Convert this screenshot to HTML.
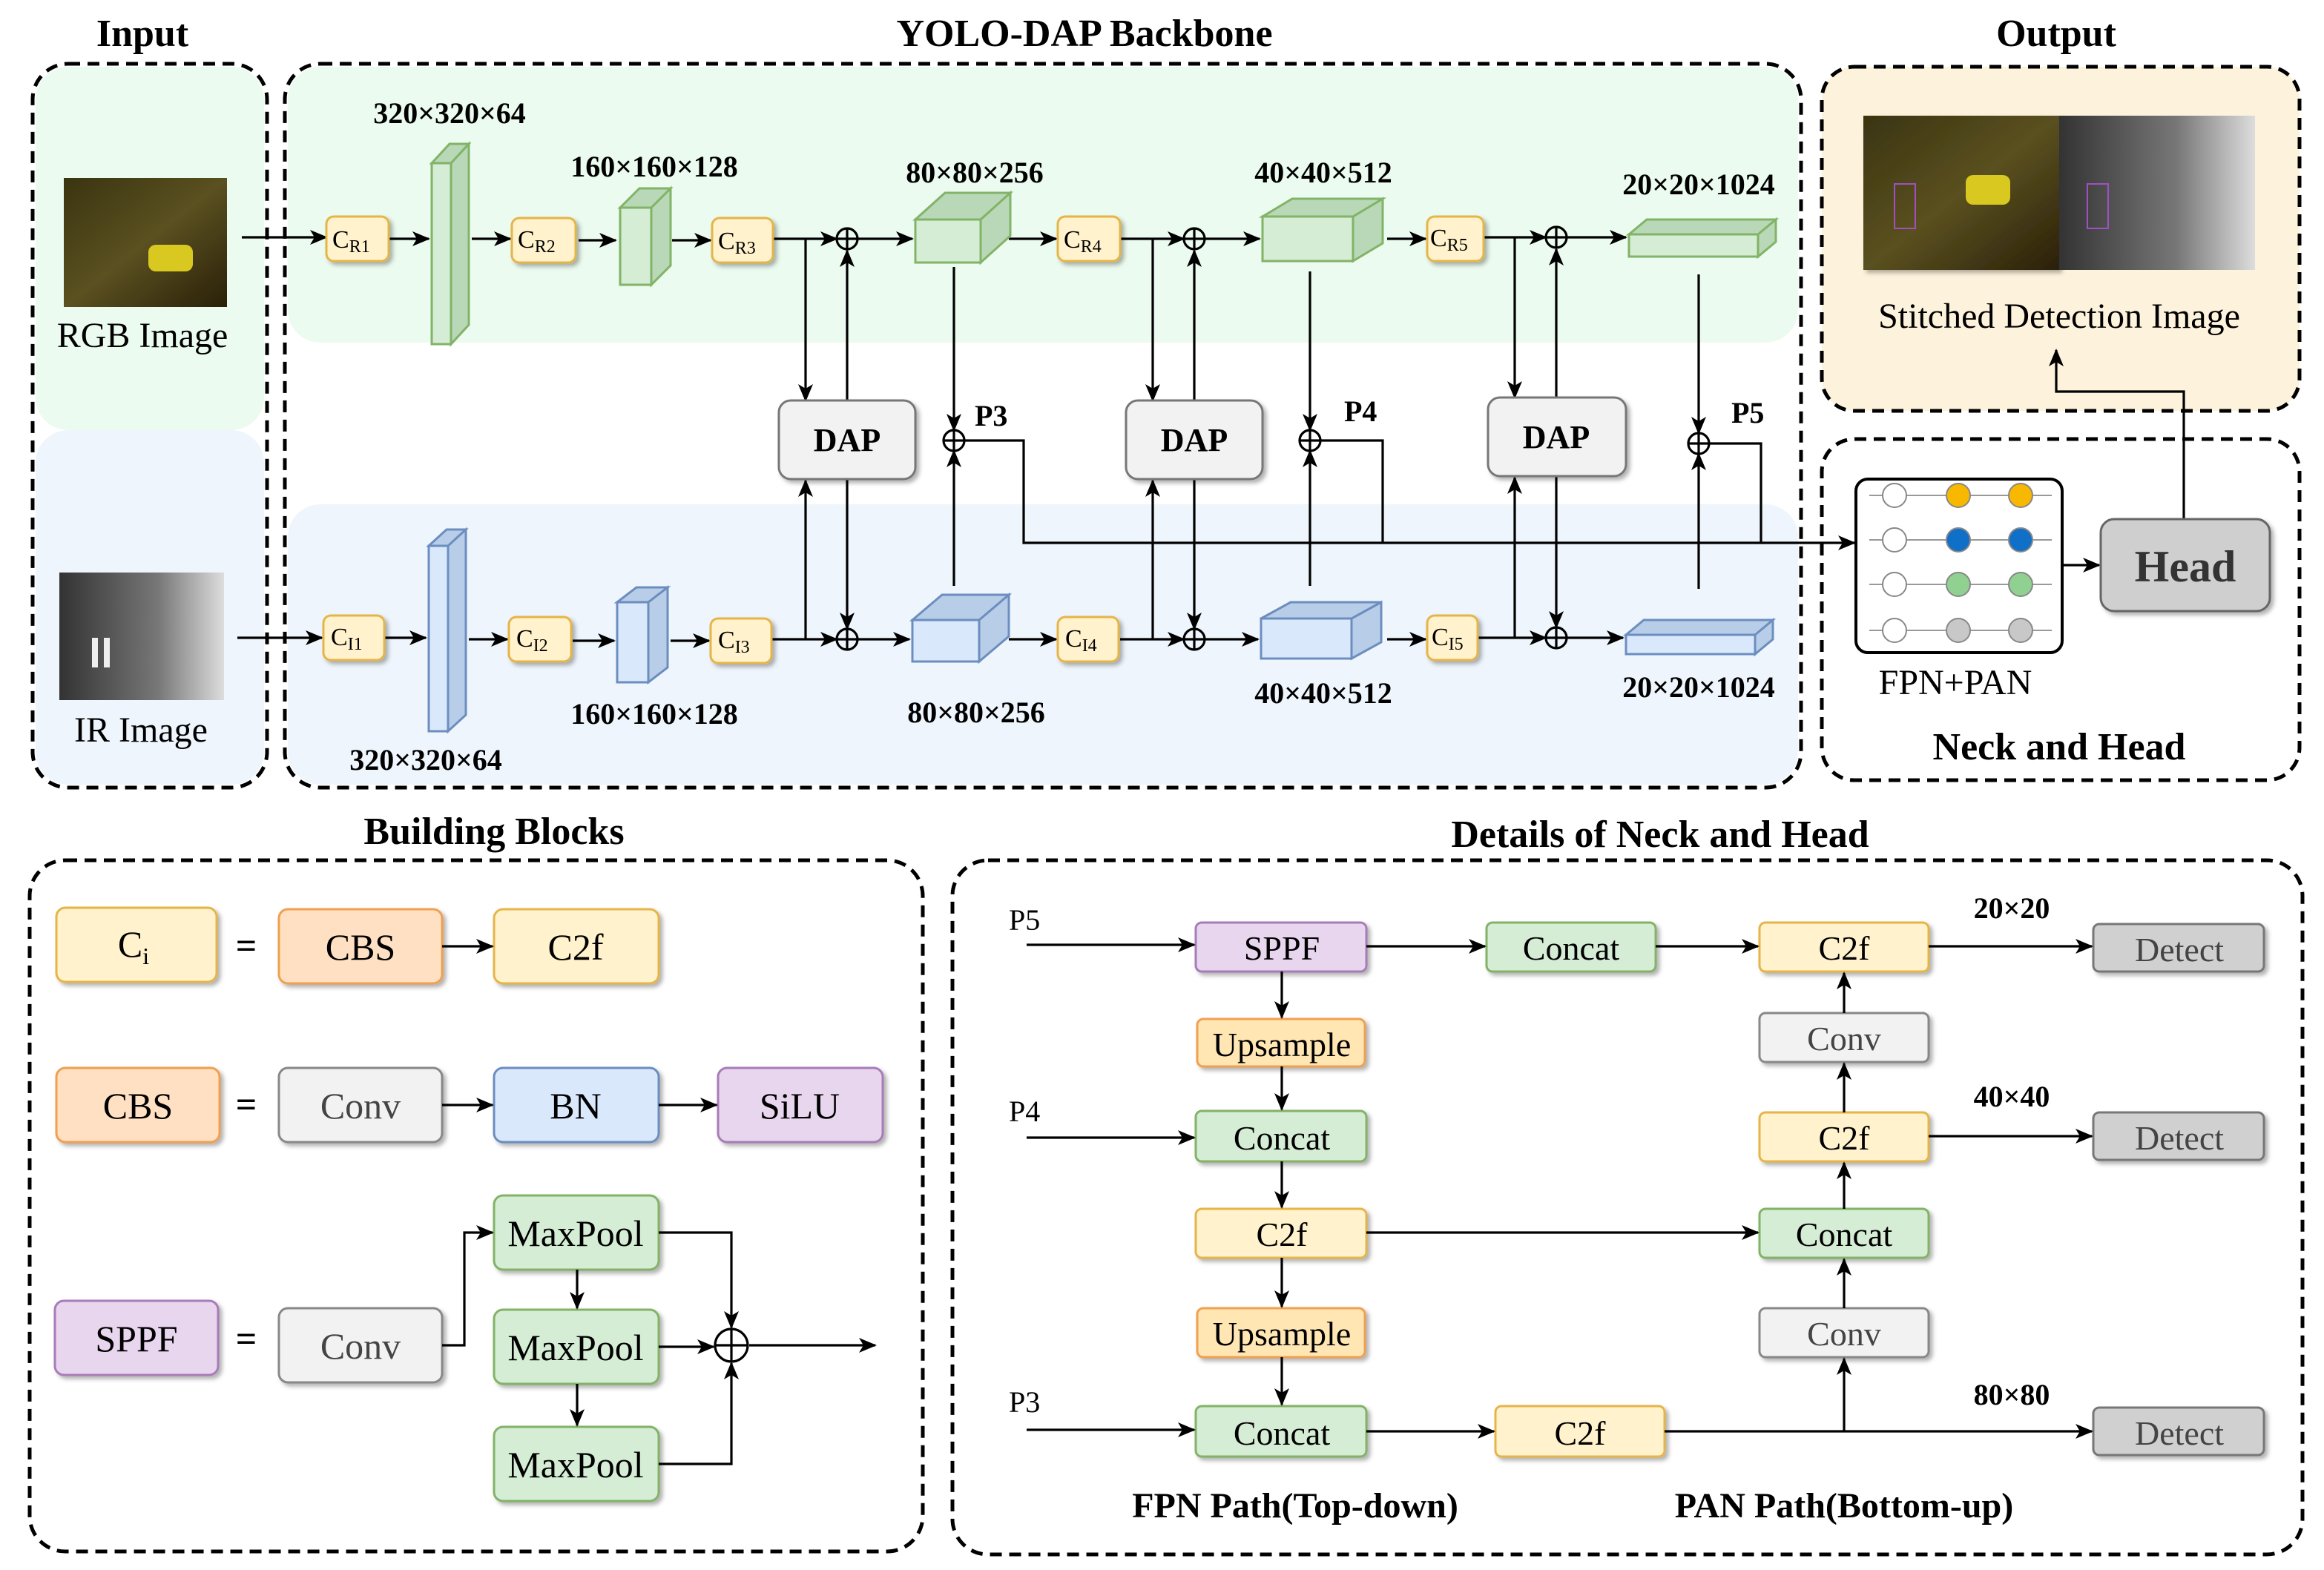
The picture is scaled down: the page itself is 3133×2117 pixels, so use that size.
<!DOCTYPE html>
<html><head><meta charset="utf-8"><style>html,body{margin:0;padding:0;background:#fff}svg{display:block}</style></head>
<body>
<svg width="3133" height="2117" viewBox="0 0 1566.5 1058.5" xmlns="http://www.w3.org/2000/svg" font-family="Liberation Serif, serif">
<defs>
<marker id="a" markerWidth="12" markerHeight="10" refX="11" refY="5" orient="auto" markerUnits="userSpaceOnUse"><path d="M0,0 L12,5 L0,10 L3,5 z" fill="#000"/></marker>
<filter id="sh" x="-10%" y="-10%" width="130%" height="140%"><feDropShadow dx="2" dy="2" stdDeviation="1.5" flood-opacity="0.3"/></filter>
<linearGradient id="rgb" x1="0" y1="0" x2="1" y2="1"><stop offset="0" stop-color="#3a3410"/><stop offset="0.5" stop-color="#5a5020"/><stop offset="1" stop-color="#2a2008"/></linearGradient>
<linearGradient id="ir" x1="0" y1="0" x2="1" y2="0"><stop offset="0" stop-color="#333"/><stop offset="0.6" stop-color="#777"/><stop offset="1" stop-color="#ddd"/></linearGradient>
</defs>
<g font-weight="bold" font-size="26" text-anchor="middle">
<text x="96" y="31">Input</text><text x="731" y="31">YOLO-DAP Backbone</text><text x="1386" y="31">Output</text>
<text x="333" y="569">Building Blocks</text><text x="1119" y="571">Details of Neck and Head</text>
</g>
<!-- backgrounds -->
<rect x="24" y="45" width="154" height="245" rx="22" fill="#ebfbef"/>
<rect x="24" y="290" width="154" height="239" rx="22" fill="#eef5fc"/>
<rect x="194" y="45" width="1018" height="186" rx="22" fill="#ebfbef"/>
<rect x="194" y="340" width="1018" height="189" rx="22" fill="#eef5fc"/>
<rect x="1228" y="45" width="322" height="232" rx="22" fill="#fdf2dc"/>
<g fill="none" stroke="#000" stroke-width="2.5" stroke-dasharray="8 5">
<rect x="22" y="43" width="158" height="488" rx="24"/>
<rect x="192" y="43" width="1022" height="488" rx="24"/>
<rect x="1228" y="45" width="322" height="232" rx="22"/>
<rect x="1228" y="296" width="322" height="230" rx="22"/>
<rect x="20" y="580" width="602" height="466" rx="24"/>
<rect x="642" y="580" width="910" height="468" rx="24"/>
</g>
<!-- input images -->
<rect x="43" y="120" width="110" height="87" fill="url(#rgb)"/>
<rect x="100" y="165" width="30" height="18" rx="5" fill="#d8c820"/>
<rect x="40" y="386" width="111" height="86" fill="url(#ir)"/>
<rect x="62" y="430" width="4" height="20" fill="#eee"/><rect x="70" y="430" width="4" height="20" fill="#eee"/>
<g font-size="24" text-anchor="middle"><text x="96" y="234">RGB Image</text><text x="95" y="500">IR Image</text></g>
<!-- output image -->
<rect x="1256" y="78" width="132" height="104" fill="url(#rgb)" filter="url(#sh)"/>
<rect x="1388" y="78" width="132" height="104" fill="url(#ir)"/>
<rect x="1325" y="118" width="30" height="20" rx="5" fill="#d8c820"/>
<rect x="1277" y="124" width="14" height="30" fill="none" stroke="#a050c0"/><rect x="1407" y="124" width="14" height="30" fill="none" stroke="#a050c0"/>
<text x="1388" y="221" font-size="24" text-anchor="middle">Stitched Detection Image</text>

<g stroke="#000" stroke-width="1.6" fill="none" marker-end="url(#a)">
<!-- top row -->
<path d="M163,160 H220"/><path d="M262,161 H289"/><path d="M318,161 H344"/><path d="M390,162 H415"/><path d="M453,162 H479"/>
<path d="M521,161 H564"/><path d="M578,161 H615"/><path d="M680,161 H712"/><path d="M755,161 H798"/><path d="M812,161 H849"/><path d="M935,161 H961"/><path d="M1000,160 H1042"/><path d="M1056,160 H1096"/>
<!-- bottom row -->
<path d="M160,430 H217"/><path d="M259,430 H287"/><path d="M316,431 H342"/><path d="M386,432 H414"/><path d="M452,432 H478"/>
<path d="M520,431 H564"/><path d="M578,431 H613"/><path d="M680,431 H712"/><path d="M755,431 H798"/><path d="M812,431 H848"/><path d="M935,431 H961"/><path d="M996,430 H1042"/><path d="M1056,430 H1094"/>
<!-- DAP connections -->
<path d="M543,161 V270"/><path d="M571,270 V169"/><path d="M543,431 V324"/><path d="M571,323 V424"/>
<path d="M777,161 V270"/><path d="M805,270 V169"/><path d="M777,431 V324"/><path d="M805,323 V424"/>
<path d="M1021,160 V268"/><path d="M1049,268 V168"/><path d="M1021,430 V322"/><path d="M1049,321 V423"/>
<path d="M643,180 V290"/><path d="M643,395 V304"/>
<path d="M883,183 V290"/><path d="M883,395 V304"/>
<path d="M1145,185 V292"/><path d="M1145,397 V306"/>
<path d="M650,297 H690 V366 H1250"/>
<path d="M1390,381 H1415"/>
<path d="M1472,350 V264 H1386 V236"/>
</g>
<g stroke="#000" stroke-width="1.6" fill="none">
<path d="M890,297 H932 V366"/><path d="M1152,299 H1187 V366"/>
<circle cx="571" cy="161" r="7"/><circle cx="805" cy="161" r="7"/><circle cx="1049" cy="160" r="7"/>
<circle cx="571" cy="431" r="7"/><circle cx="805" cy="431" r="7"/><circle cx="1049" cy="430" r="7"/>
<circle cx="643" cy="297" r="7"/><circle cx="883" cy="297" r="7"/><circle cx="1145" cy="299" r="7"/>
<path d="M564,161H578M571,154V168M798,161H812M805,154V168M1042,160H1056M1049,153V167M564,431H578M571,424V438M798,431H812M805,424V438M1042,430H1056M1049,423V437M636,297H650M643,290V304M876,297H890M883,290V304M1138,299H1152M1145,292V306"/>
</g>
<!-- C boxes -->
<g fill="#fff2cc" stroke="#e6b54a" stroke-width="1.5" filter="url(#sh)">
<rect x="220" y="146" width="42" height="30" rx="5"/><rect x="345" y="147" width="43" height="30" rx="5"/><rect x="480" y="147" width="41" height="30" rx="5"/><rect x="713" y="146" width="42" height="30" rx="5"/><rect x="962" y="146" width="38" height="30" rx="5"/>
<rect x="218" y="415" width="41" height="30" rx="5"/><rect x="343" y="416" width="42" height="30" rx="5"/><rect x="479" y="417" width="41" height="30" rx="5"/><rect x="713" y="416" width="41" height="30" rx="5"/><rect x="962" y="415" width="34" height="30" rx="5"/>
</g>
<g font-size="17"><text x="224" y="167">C<tspan font-size="12" dy="3">R1</tspan></text><text x="349" y="167">C<tspan font-size="12" dy="3">R2</tspan></text><text x="484" y="168">C<tspan font-size="12" dy="3">R3</tspan></text><text x="717" y="167">C<tspan font-size="12" dy="3">R4</tspan></text><text x="964" y="166">C<tspan font-size="12" dy="3">R5</tspan></text>
<text x="223" y="435">C<tspan font-size="12" dy="3">I1</tspan></text><text x="348" y="436">C<tspan font-size="12" dy="3">I2</tspan></text><text x="484" y="437">C<tspan font-size="12" dy="3">I3</tspan></text><text x="718" y="436">C<tspan font-size="12" dy="3">I4</tspan></text><text x="965" y="435">C<tspan font-size="12" dy="3">I5</tspan></text></g>
<!-- 3D blocks green -->
<g stroke="#82b366" stroke-width="1.5">
<path d="M291,110 L303,97 H316 L304,110Z M304,110 L316,97 V219 L304,232Z" fill="#b8d8b8"/><rect x="291" y="110" width="13" height="122" fill="#d5ecd5"/>
<path d="M418,140 L431,127 H452 L439,140Z M439,140 L452,127 V179 L439,192Z" fill="#b8d8b8"/><rect x="418" y="140" width="21" height="52" fill="#d5ecd5"/>
<path d="M617,148 L637,130 H681 L661,148Z M661,148 L681,130 V159 L661,177Z" fill="#b8d8b8"/><rect x="617" y="148" width="44" height="29" fill="#d5ecd5"/>
<path d="M851,146 L871,134 H932 L912,146Z M912,146 L932,134 V164 L912,176Z" fill="#b8d8b8"/><rect x="851" y="146" width="61" height="30" fill="#d5ecd5"/>
<path d="M1098,158 L1110,148 H1197 L1185,158Z M1185,158 L1197,148 V163 L1185,173Z" fill="#b8d8b8"/><rect x="1098" y="158" width="87" height="15" fill="#d5ecd5"/>
</g>
<g stroke="#6c8ebf" stroke-width="1.5">
<path d="M289,368 L301,357 H314 L302,368Z M302,368 L314,357 V482 L302,493Z" fill="#b8cde8"/><rect x="289" y="368" width="13" height="125" fill="#dae8fc"/>
<path d="M416,406 L429,396 H450 L437,406Z M437,406 L450,396 V450 L437,460Z" fill="#b8cde8"/><rect x="416" y="406" width="21" height="54" fill="#dae8fc"/>
<path d="M615,418 L635,401 H680 L660,418Z M660,418 L680,401 V429 L660,446Z" fill="#b8cde8"/><rect x="615" y="418" width="45" height="28" fill="#dae8fc"/>
<path d="M850,417 L870,406 H931 L911,417Z M911,417 L931,406 V433 L911,444Z" fill="#b8cde8"/><rect x="850" y="417" width="61" height="27" fill="#dae8fc"/>
<path d="M1096,428 L1108,418 H1195 L1183,428Z M1183,428 L1195,418 V431 L1183,441Z" fill="#b8cde8"/><rect x="1096" y="428" width="87" height="13" fill="#dae8fc"/>
</g>
<g font-size="20" font-weight="bold" text-anchor="middle">
<text x="303" y="83">320×320×64</text><text x="441" y="119">160×160×128</text><text x="657" y="123">80×80×256</text><text x="892" y="123">40×40×512</text><text x="1145" y="131">20×20×1024</text>
<text x="287" y="519">320×320×64</text><text x="441" y="488">160×160×128</text><text x="658" y="487">80×80×256</text><text x="892" y="474">40×40×512</text><text x="1145" y="470">20×20×1024</text>
</g>
<g font-size="20" font-weight="bold"><text x="657" y="287">P3</text><text x="906" y="284">P4</text><text x="1167" y="285">P5</text></g>
<!-- DAP -->
<g fill="#f2f2f2" stroke="#777" stroke-width="1.5" filter="url(#sh)">
<rect x="525" y="270" width="92" height="53" rx="8"/><rect x="759" y="270" width="92" height="53" rx="8"/><rect x="1003" y="268" width="93" height="53" rx="8"/>
</g>
<g font-size="22" font-weight="bold" text-anchor="middle"><text x="571" y="304">DAP</text><text x="805" y="304">DAP</text><text x="1049" y="302">DAP</text></g>
<!-- FPN+PAN -->
<rect x="1251" y="323" width="139" height="117" rx="8" fill="#fff" stroke="#000" stroke-width="2"/>
<g stroke="#999" stroke-width="1"><path d="M1260,334H1383M1260,364H1383M1260,394H1383M1260,425H1383"/></g>
<g stroke="#888" stroke-width="1">
<circle cx="1277" cy="334" r="8" fill="#fff"/><circle cx="1277" cy="364" r="8" fill="#fff"/><circle cx="1277" cy="394" r="8" fill="#fff"/><circle cx="1277" cy="425" r="8" fill="#fff"/>
<circle cx="1320" cy="334" r="8" fill="#f8b800"/><circle cx="1320" cy="364" r="8" fill="#1070c8"/><circle cx="1320" cy="394" r="8" fill="#90d090"/><circle cx="1320" cy="425" r="8" fill="#c8c8c8"/>
<circle cx="1362" cy="334" r="8" fill="#f8b800"/><circle cx="1362" cy="364" r="8" fill="#1070c8"/><circle cx="1362" cy="394" r="8" fill="#90d090"/><circle cx="1362" cy="425" r="8" fill="#c8c8c8"/>
</g>
<text x="1318" y="468" font-size="24" text-anchor="middle">FPN+PAN</text>
<rect x="1416" y="350" width="114" height="62" rx="9" fill="#cfcfcf" stroke="#666" stroke-width="1.5" filter="url(#sh)"/>
<text x="1473" y="392" font-size="30" font-weight="bold" text-anchor="middle" fill="#333">Head</text>
<text x="1388" y="512" font-size="26" font-weight="bold" text-anchor="middle">Neck and Head</text>

<!-- Building blocks -->
<g stroke-width="1.5" filter="url(#sh)">
<rect x="38" y="612" width="108" height="50" rx="6" fill="#fff2cc" stroke="#e6b54a"/>
<rect x="188" y="613" width="110" height="50" rx="6" fill="#ffe0c2" stroke="#f0a050"/>
<rect x="333" y="613" width="111" height="50" rx="6" fill="#fff2cc" stroke="#e6b54a"/>
<rect x="38" y="720" width="110" height="50" rx="6" fill="#ffe0c2" stroke="#f0a050"/>
<rect x="188" y="720" width="110" height="50" rx="6" fill="#f2f2f2" stroke="#888"/>
<rect x="333" y="720" width="111" height="50" rx="6" fill="#dae8fc" stroke="#6c8ebf"/>
<rect x="484" y="720" width="111" height="50" rx="6" fill="#e8d5ee" stroke="#a87bb8"/>
<rect x="37" y="877" width="110" height="50" rx="6" fill="#e8d5ee" stroke="#a87bb8"/>
<rect x="188" y="882" width="110" height="50" rx="6" fill="#f2f2f2" stroke="#888"/>
<rect x="333" y="806" width="111" height="50" rx="6" fill="#d5ecd5" stroke="#82b366"/>
<rect x="333" y="883" width="111" height="50" rx="6" fill="#d5ecd5" stroke="#82b366"/>
<rect x="333" y="962" width="111" height="50" rx="6" fill="#d5ecd5" stroke="#82b366"/>
</g>
<g font-size="25" text-anchor="middle">
<text x="90" y="645">C<tspan font-size="16" dy="5">i</tspan></text>
<text x="243" y="647">CBS</text><text x="388" y="647">C2f</text>
<text x="93" y="754">CBS</text><text x="243" y="754" fill="#444">Conv</text><text x="388" y="754">BN</text><text x="539" y="754">SiLU</text>
<text x="92" y="911">SPPF</text><text x="243" y="916" fill="#444">Conv</text>
<text x="388" y="840">MaxPool</text><text x="388" y="917">MaxPool</text><text x="388" y="996">MaxPool</text>
<text x="166" y="646" font-weight="bold">=</text><text x="166" y="753" font-weight="bold">=</text><text x="166" y="911" font-weight="bold">=</text>
</g>
<g stroke="#000" stroke-width="1.6" fill="none" marker-end="url(#a)">
<path d="M298,638 H332"/><path d="M298,745 H332"/><path d="M444,745 H483"/>
<path d="M298,907 H313 V831 H332"/><path d="M389,856 V882"/><path d="M389,933 V961"/>
<path d="M444,831 H493 V895"/><path d="M444,908 H481"/><path d="M444,987 H493 V919"/><path d="M505,907 H590"/>
</g>
<g stroke="#000" stroke-width="1.6" fill="none"><circle cx="493" cy="907" r="11"/><path d="M482,907H504M493,896V918"/></g>

<!-- Details -->
<g stroke-width="1.5" filter="url(#sh)">
<rect x="806" y="622" width="115" height="33" rx="4" fill="#e8d5ee" stroke="#a87bb8"/>
<rect x="1002" y="622" width="114" height="33" rx="4" fill="#d5ecd5" stroke="#82b366"/>
<rect x="1186" y="622" width="114" height="33" rx="4" fill="#fff2cc" stroke="#e6b54a"/>
<rect x="1411" y="623" width="115" height="32" rx="4" fill="#d0d0d0" stroke="#777"/>
<rect x="807" y="687" width="113" height="32" rx="4" fill="#ffe6b3" stroke="#f0a050"/>
<rect x="1186" y="683" width="114" height="33" rx="4" fill="#f2f2f2" stroke="#888"/>
<rect x="806" y="749" width="115" height="34" rx="4" fill="#d5ecd5" stroke="#82b366"/>
<rect x="1186" y="750" width="114" height="33" rx="4" fill="#fff2cc" stroke="#e6b54a"/>
<rect x="1411" y="750" width="115" height="32" rx="4" fill="#d0d0d0" stroke="#777"/>
<rect x="806" y="815" width="115" height="33" rx="4" fill="#fff2cc" stroke="#e6b54a"/>
<rect x="1186" y="815" width="114" height="33" rx="4" fill="#d5ecd5" stroke="#82b366"/>
<rect x="807" y="882" width="113" height="33" rx="4" fill="#ffe6b3" stroke="#f0a050"/>
<rect x="1186" y="882" width="114" height="33" rx="4" fill="#f2f2f2" stroke="#888"/>
<rect x="806" y="948" width="115" height="34" rx="4" fill="#d5ecd5" stroke="#82b366"/>
<rect x="1008" y="948" width="114" height="34" rx="4" fill="#fff2cc" stroke="#e6b54a"/>
<rect x="1411" y="949" width="115" height="32" rx="4" fill="#d0d0d0" stroke="#777"/>
</g>
<g font-size="23" text-anchor="middle">
<text x="864" y="647">SPPF</text><text x="1059" y="647">Concat</text><text x="1243" y="647">C2f</text><text x="1469" y="648" fill="#444">Detect</text>
<text x="864" y="712">Upsample</text><text x="1243" y="708" fill="#444">Conv</text>
<text x="864" y="775">Concat</text><text x="1243" y="775">C2f</text><text x="1469" y="775" fill="#444">Detect</text>
<text x="864" y="840">C2f</text><text x="1243" y="840">Concat</text>
<text x="864" y="907">Upsample</text><text x="1243" y="907" fill="#444">Conv</text>
<text x="864" y="974">Concat</text><text x="1065" y="974">C2f</text><text x="1469" y="974" fill="#444">Detect</text>
</g>
<g font-size="20"><text x="680" y="627">P5</text><text x="680" y="756">P4</text><text x="680" y="952">P3</text></g>
<g font-size="20" font-weight="bold" text-anchor="middle"><text x="1356" y="619">20×20</text><text x="1356" y="746">40×40</text><text x="1356" y="947">80×80</text></g>
<g stroke="#000" stroke-width="1.6" fill="none" marker-end="url(#a)">
<path d="M692,637 H805"/><path d="M921,638 H1001"/><path d="M1116,638 H1185"/><path d="M1300,638 H1410"/>
<path d="M864,655 V686"/><path d="M864,719 V748"/><path d="M692,767 H805"/><path d="M864,783 V814"/>
<path d="M921,831 H1185"/><path d="M864,848 V881"/><path d="M864,915 V947"/><path d="M692,964 H805"/>
<path d="M921,965 H1007"/><path d="M1122,965 H1410"/><path d="M1243,965 V916"/><path d="M1243,882 V849"/>
<path d="M1243,815 V784"/><path d="M1300,766 H1410"/><path d="M1243,750 V717"/><path d="M1243,683 V656"/>
</g>
<g font-size="24" font-weight="bold" text-anchor="middle"><text x="873" y="1023">FPN Path(Top-down)</text><text x="1243" y="1023">PAN Path(Bottom-up)</text></g>
</svg>
</body></html>
